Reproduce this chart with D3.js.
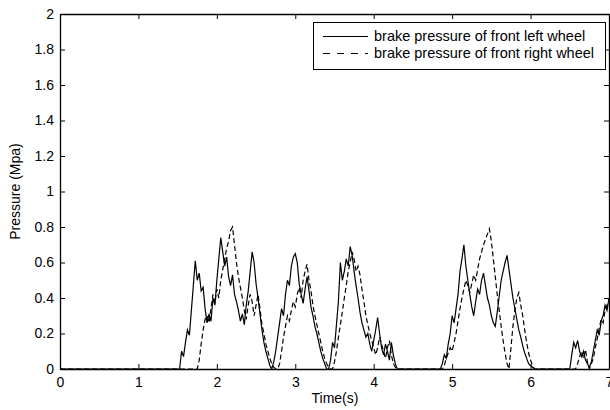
<!DOCTYPE html>
<html>
<head>
<meta charset="utf-8">
<script src="https://cdn.jsdelivr.net/npm/d3@7"></script>
<style>
  body { margin: 0; background: #fff; }
  svg { display: block; }
  text { font-family: "Liberation Sans", Arial, sans-serif; fill: #000; }
</style>
</head>
<body>
<svg id="chart" width="610" height="410"></svg>
<script>
// ---- data ----
const sampleStep = 0.025;           // s
const xTicks = [0, 1, 2, 3, 4, 5, 6, 7];
const yTicks = [0, 0.2, 0.4, 0.6, 0.8, 1, 1.2, 1.4, 1.6, 1.8, 2];
const seriesNames = ["brake pressure of front left wheel", "brake pressure of front right wheel"];

// front left wheel pressure (MPa), one row per second, 40 samples each, plus t = 7
const frontLeft = [
  0,0,0,0,0,0,0,0,0,0,0,0,0,0,0,0,0,0,0,0,0,0,0,0,0,0,0,0,0,0,0,0,0,0,0,0,0,0,0,0,
  0,0,0,0,0,0,0,0,0,0,0,0,0,0,0,0,0,0,0,0,0,0,0.1,0.07,0.15,0.22,0.19,0.33,0.47,0.61,0.5,0.54,0.44,0.46,0.34,0.26,0.31,0.27,0.4,0.36,
  0.5,0.62,0.74,0.66,0.58,0.63,0.52,0.47,0.53,0.42,0.38,0.33,0.27,0.31,0.25,0.36,0.44,0.55,0.66,0.6,0.48,0.4,0.31,0.22,0.15,0.1,0.06,0.02,0,0.04,0.1,0.18,0.26,0.34,0.3,0.42,0.5,0.47,0.58,0.63,
  0.65,0.6,0.48,0.42,0.37,0.45,0.52,0.44,0.35,0.3,0.24,0.2,0.15,0.1,0.06,0.03,0,0,0.05,0.15,0.12,0.25,0.38,0.6,0.5,0.55,0.62,0.58,0.69,0.64,0.55,0.47,0.4,0.32,0.26,0.22,0.18,0.2,0.14,0.1,
  0.16,0.22,0.29,0.2,0.12,0.08,0.14,0.1,0.05,0.15,0.08,0.03,0,0,0,0,0,0,0,0,0,0,0,0,0,0,0,0,0,0,0,0,0,0,0,0.03,0.08,0.06,0.14,0.2,
  0.3,0.26,0.34,0.42,0.55,0.62,0.7,0.58,0.5,0.42,0.35,0.3,0.38,0.45,0.42,0.5,0.54,0.47,0.4,0.36,0.3,0.26,0.24,0.32,0.41,0.5,0.55,0.6,0.64,0.56,0.48,0.4,0.34,0.28,0.22,0.18,0.13,0.09,0.06,0.03,
  0.02,0.01,0,0,0,0,0,0,0,0,0,0,0,0,0,0,0,0,0,0,0,0.08,0.15,0.12,0.16,0.1,0.07,0.1,0.05,0.03,0.01,0.04,0.1,0.16,0.22,0.19,0.27,0.3,0.36,0.33,
  0.4
];

// front right wheel pressure (MPa)
const frontRight = [
  0,0,0,0,0,0,0,0,0,0,0,0,0,0,0,0,0,0,0,0,0,0,0,0,0,0,0,0,0,0,0,0,0,0,0,0,0,0,0,0,
  0,0,0,0,0,0,0,0,0,0,0,0,0,0,0,0,0,0,0,0,0,0,0,0,0,0,0,0,0,0,0,0.05,0.14,0.22,0.28,0.3,0.26,0.34,0.42,0.37,
  0.45,0.4,0.5,0.56,0.62,0.68,0.72,0.78,0.8,0.7,0.6,0.52,0.46,0.4,0.33,0.28,0.36,0.42,0.38,0.3,0.36,0.42,0.34,0.25,0.2,0.14,0.1,0.06,0.03,0.01,0,0,0.03,0.1,0.18,0.24,0.3,0.27,0.33,0.38,
  0.35,0.42,0.46,0.4,0.5,0.55,0.59,0.5,0.44,0.36,0.3,0.25,0.2,0.15,0.1,0.06,0.03,0.01,0,0,0.04,0.1,0.18,0.25,0.32,0.4,0.47,0.55,0.6,0.66,0.62,0.55,0.58,0.53,0.45,0.38,0.3,0.25,0.2,0.16,
  0.12,0.08,0.12,0.18,0.14,0.1,0.06,0.12,0.16,0.08,0.03,0.01,0,0,0,0,0,0,0,0,0,0,0,0,0,0,0,0,0,0,0,0,0,0,0,0,0.02,0.06,0.09,0.12,
  0.1,0.15,0.2,0.27,0.34,0.4,0.45,0.5,0.47,0.43,0.48,0.53,0.5,0.56,0.62,0.66,0.7,0.73,0.76,0.79,0.72,0.62,0.52,0.42,0.33,0.24,0.16,0.09,0.03,0,0.12,0.24,0.33,0.4,0.43,0.36,0.3,0.22,0.15,0.09,
  0.05,0.02,0,0,0,0,0,0,0,0,0,0,0,0,0,0,0,0,0,0,0,0,0,0,0.03,0.07,0.1,0.06,0.11,0.04,0,0.03,0.06,0.12,0.17,0.23,0.28,0.26,0.33,0.36,
  0.38
];

// ---- layout ----
const svg = d3.select("#chart");
const L = 60, R = 609, T = 14, B = 369;
const FS = "14px";
const x = d3.scaleLinear().domain([0, 7]).range([L, R]);
const y = d3.scaleLinear().domain([0, 2]).range([B, T]);

const toPts = arr => arr.map((v, i) => [i * sampleStep, v]);
const line = d3.line().x(d => x(d[0])).y(d => y(d[1]));

const plot = svg.append("g");
plot.append("path").datum(toPts(frontRight))
  .attr("d", line).attr("fill", "none").attr("stroke", "#000")
  .attr("stroke-width", 1.2).attr("stroke-dasharray", "5,3");
plot.append("path").datum(toPts(frontLeft))
  .attr("d", line).attr("fill", "none").attr("stroke", "#000")
  .attr("stroke-width", 1.2);

// axes (MATLAB-style box with inward ticks)
const tickLen = 5;
const gx = svg.append("g").attr("transform", `translate(0,${B})`)
  .call(d3.axisBottom(x).tickValues(xTicks).tickFormat(d3.format("d")).tickSizeInner(-tickLen).tickSizeOuter(0).tickPadding(8));
const gxt = svg.append("g").attr("transform", `translate(0,${T})`)
  .call(d3.axisTop(x).tickValues(xTicks).tickFormat("").tickSizeInner(-tickLen).tickSizeOuter(0));
const gy = svg.append("g").attr("transform", `translate(${L},0)`)
  .call(d3.axisLeft(y).tickValues(yTicks).tickFormat(d => d3.format("~g")(d)).tickSizeInner(-tickLen).tickSizeOuter(0).tickPadding(6));
const gyr = svg.append("g").attr("transform", `translate(${R},0)`)
  .call(d3.axisRight(y).tickValues(yTicks).tickFormat("").tickSizeInner(-tickLen).tickSizeOuter(0));

[gx, gxt, gy, gyr].forEach(g => {
  g.selectAll("path.domain").attr("stroke", "#000").attr("stroke-width", 1.3);
  g.selectAll(".tick line").attr("stroke", "#000");
  g.selectAll("text").style("font-family", '"Liberation Sans", Arial, sans-serif').style("font-size", FS).attr("fill", "#000");
});

// axis titles
svg.append("text").attr("x", 335).attr("y", 403).attr("text-anchor", "middle")
  .style("font-size", FS).text("Time(s)");
svg.append("text").attr("transform", `translate(20,${(T + B) / 2}) rotate(-90)`)
  .attr("text-anchor", "middle").style("font-size", FS).text("Pressure (Mpa)");

// legend
const lg = svg.append("g");
lg.append("rect").attr("x", 313.5).attr("y", 22.5).attr("width", 292).attr("height", 47)
  .attr("fill", "#fff").attr("stroke", "#000").attr("stroke-width", 1);
const rows = [36, 53];
seriesNames.forEach((name, i) => {
  lg.append("line").attr("x1", 323).attr("x2", 368).attr("y1", rows[i] + 0.5).attr("y2", rows[i] + 0.5)
    .attr("stroke", "#000").attr("stroke-width", 1)
    .attr("stroke-dasharray", i === 1 ? "7,7" : null);
  lg.append("text").attr("x", 374).attr("y", rows[i] + 5)
    .style("font-size", "14.5px").text(name);
});
</script>
</body>
</html>
